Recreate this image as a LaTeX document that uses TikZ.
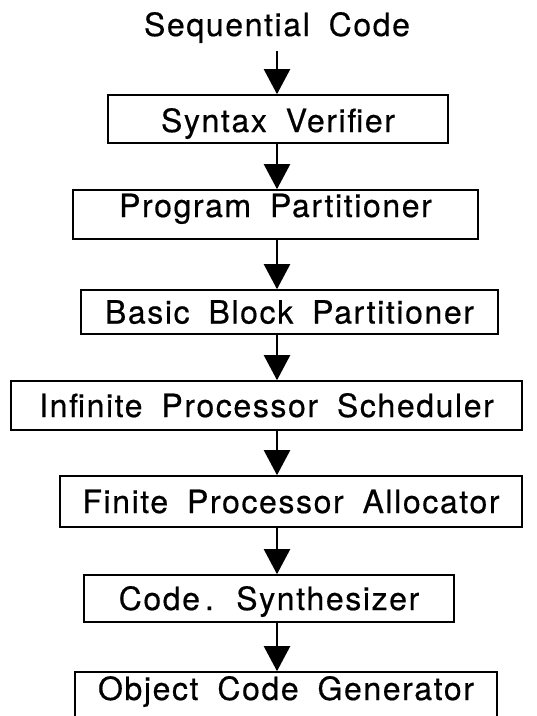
\documentclass[tikz,border=0pt]{standalone}
\usepackage{fontspec}
\setmainfont{TeX Gyre Heros}[LetterSpace=5,WordSpace=1.8,FakeBold=0.5]
\usetikzlibrary{arrows.meta}

\tikzset{
  stage/.style={draw, line width=1.6pt, inner sep=0pt,
    font=\fontsize{32}{38}\selectfont},
  flow/.style={-{Triangle[width=26pt,length=25pt]}, line width=2.2pt}
}

\begin{document}
\begin{tikzpicture}[x=1pt,y=-1pt]
    \useasboundingbox (0,0) rectangle (537,716);
    \clip (0,0) rectangle (537,716);
    % Input and column of the arrows
    \node[font=\fontsize{32}{38}\selectfont, inner sep=0pt, text height=23pt, text depth=7pt] (seq) at (277,28) {Sequential Code};
    \coordinate (spine) at (277,0);
    % Compiler stages, top to bottom
    \node[stage, minimum width=340pt, text height=37pt, text depth=11pt] (syn) at (278,119) {Syntax Verifier};
    \node[stage, minimum width=405pt, text height=27pt, text depth=22pt] (prog) at (275.5,214.5) {Program Partitioner};
    \node[stage, minimum width=417pt, text height=33.5pt, text depth=10.5pt] (basic) at (289.5,312) {Basic Block Partitioner};
    \node[stage, minimum width=511pt, text height=36pt, text depth=13pt] (infin) at (266.5,405.5) {Infinite Processor Scheduler};
    \node[stage, minimum width=462pt, text height=37pt, text depth=14pt] (finite) at (291,501.5) {Finite Processor Allocator};
    \node[stage, minimum width=370pt, text height=35pt, text depth=12pt] (code) at (269,598.5) {Code\kern5pt. Synthesizer};
    \node[stage, minimum width=422pt, text height=28pt, text depth=32pt] (obj) at (286,702) {Object Code Generator};
    % Arrows between the stages
    \draw[flow] (seq.south -| spine) ++(0,8) -- (syn.north -| spine);
    \draw[flow] (syn.south -| spine) -- (prog.north -| spine);
    \draw[flow] (prog.south -| spine) -- (basic.north -| spine);
    \draw[flow] (basic.south -| spine) -- (infin.north -| spine);
    \draw[flow] (infin.south -| spine) -- (finite.north -| spine);
    \draw[flow] (finite.south -| spine) -- (code.north -| spine);
    \draw[flow] (code.south -| spine) -- (obj.north -| spine);
\end{tikzpicture}
\end{document}
